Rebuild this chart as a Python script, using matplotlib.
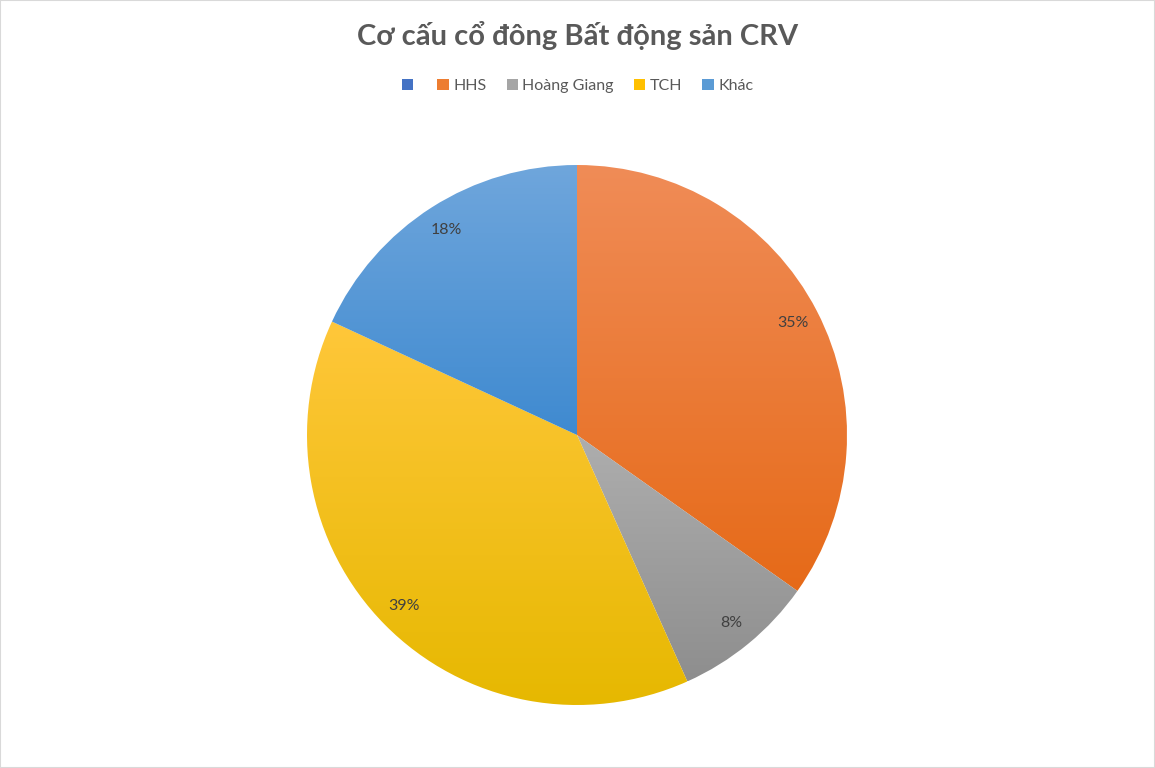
import matplotlib
matplotlib.use("Agg")
import matplotlib.pyplot as plt
import numpy as np
from matplotlib.patches import Patch, Rectangle
from matplotlib.colors import LinearSegmentedColormap

plt.rcParams['font.family'] = ['Lato', 'DejaVu Sans']

title = "Cơ cấu cổ đông Bất động sản CRV"
categories = ["", "HHS", "Hoàng Giang", "TCH", "Khác"]
values = [0.0, 34.8, 8.5, 38.6, 18.1]
base_colors = ["#4472C4", "#ED7D31", "#A5A5A5", "#FFC000", "#5B9BD5"]
grad_top = ["#6A8FD6", "#F08C57", "#AEAEAE", "#FFC73A", "#6FA6DC"]
grad_bot = ["#3A64B0", "#E66A18", "#8E8E8E", "#E6B800", "#3F8AD0"]

W, H = 1155, 768
fig = plt.figure(figsize=(W / 100, H / 100), dpi=100)
fig.patch.set_facecolor("white")

cx, cy, r = 577, 768 - 435, 270
ax = fig.add_axes([(cx - r) / W, (cy - r) / H, 2 * r / W, 2 * r / H])
ax.set_aspect("equal")


def fmt(p):
    return "" if p < 0.5 else f"{p:.0f}%"


wedges, texts = ax.pie(values, startangle=90, counterclock=False, radius=1.0,
                       colors=["none"] * len(values),
                       wedgeprops=dict(linewidth=0, edgecolor="none"))

total = sum(values)
start = 90.0
for i, (w, v) in enumerate(zip(wedges, values)):
    ang = start - v / total * 360 / 2
    start -= v / total * 360
    if v <= 0:
        continue
    path = w.get_path()
    verts = path.vertices
    x0, x1 = verts[:, 0].min(), verts[:, 0].max()
    y0, y1 = verts[:, 1].min(), verts[:, 1].max()
    cmap = LinearSegmentedColormap.from_list(f"g{i}", [grad_bot[i], grad_top[i]])
    grad = np.linspace(0, 1, 256).reshape(-1, 1)
    im = ax.imshow(grad, cmap=cmap, extent=[x0, x1, y0, y1], origin="lower",
                   aspect="auto", zorder=1)
    im.set_clip_path(w)
    rad = np.deg2rad(ang)
    d = 0.9
    ax.text(d * np.cos(rad), d * np.sin(rad), fmt(v / total * 100),
            ha="center", va="center", fontsize=11.5, color="#404040", zorder=3)

ax.set_xlim(-1.0, 1.0)
ax.set_ylim(-1.0, 1.0)
ax.axis("off")

fig.text(0.5, 1 - 36 / H, title, ha="center", va="center", fontsize=21,
         fontweight="bold", color="#595959")

handles = [Patch(facecolor=c, edgecolor="none") for c in base_colors]
leg = fig.legend(handles, categories, loc="center", bbox_to_anchor=(0.5, 1 - 86 / H),
                 ncol=5, frameon=False, fontsize=11.5, handlelength=0.7,
                 handleheight=0.7, handletextpad=0.3, columnspacing=1.25)
for t in leg.get_texts():
    t.set_color("#595959")

fig.patches.append(Rectangle((0, 0), 1, 1, transform=fig.transFigure,
                             fill=False, edgecolor="#D9D9D9", linewidth=1.5))

fig.savefig("out.png", dpi=100, facecolor="white")
